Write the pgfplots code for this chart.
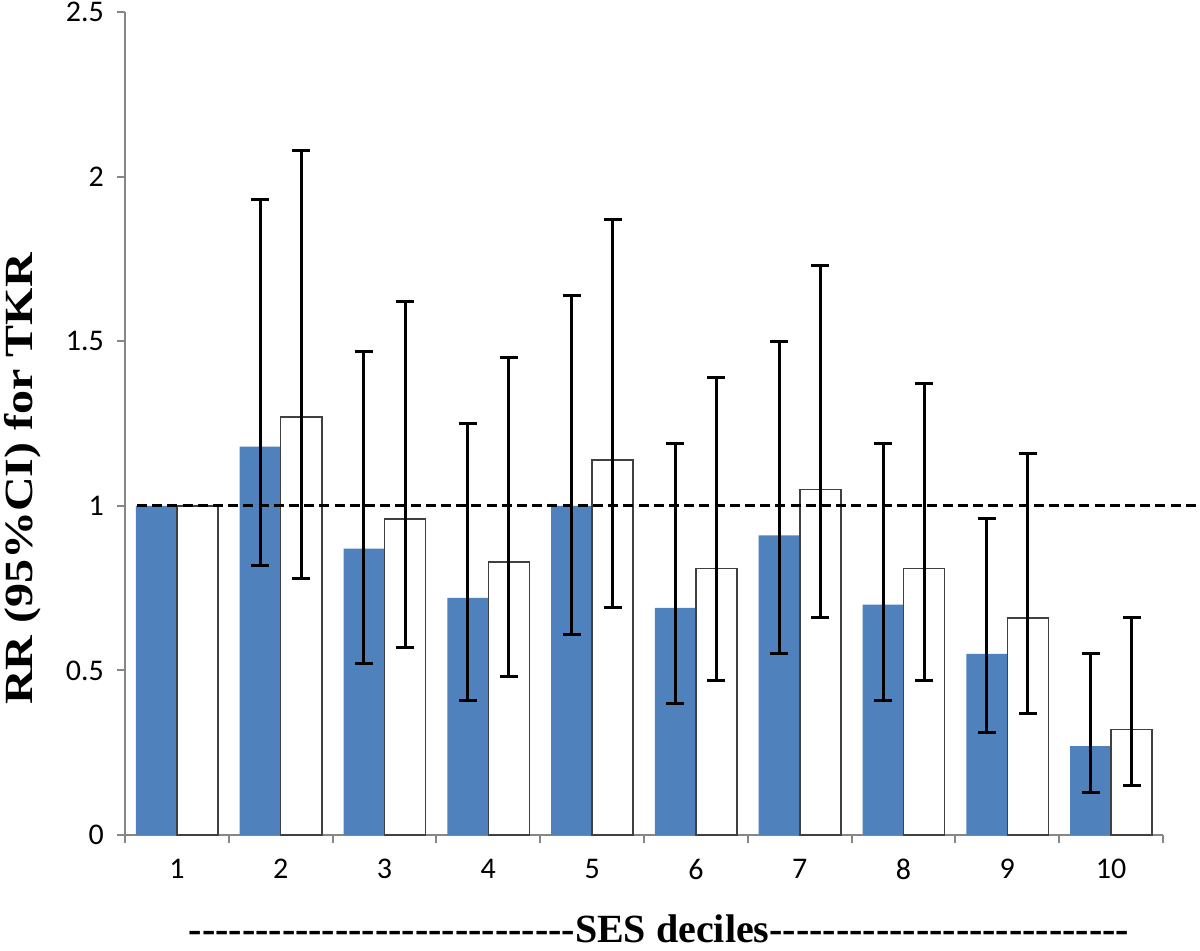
\documentclass[border=0pt]{standalone}
\usepackage{fontspec}
\setmainfont{Carlito}
\newfontfamily\timesfont{Liberation Serif}
\usepackage{graphicx}
\usepackage{pgfplots}
\pgfplotsset{compat=1.18}
\definecolor{barblue}{RGB}{79,129,189}
\definecolor{axgray}{RGB}{134,134,134}
\newcommand{\tickfont}{\fontsize{15}{18}\selectfont}

\begin{document}
\begin{tikzpicture}
\path[use as bounding box] (-62.5pt,-57.5pt) rectangle (537.5pt,417.5pt);
\begin{axis}[
    at={(0,0)}, anchor=south west,
    scale only axis,
    width=519pt, height=411.5pt,
    xmin=0.5, xmax=10.5,
    ymin=0, ymax=2.5,
    axis lines*=left,
    axis line style={axgray, line width=1pt},
    xtick={1,2,3,4,5,6,7,8,9,10},
    minor xtick={0.5,1.5,2.5,3.5,4.5,5.5,6.5,7.5,8.5,9.5,10.5},
    ytick={0,0.5,1,1.5,2,2.5},
    tick align=outside,
    major tick length=4pt,
    minor tick length=4pt,
    tick style={axgray, line width=1pt},
    major x tick style={draw=none},
    /pgf/number format/assume math mode=true,
    tick label style={font=\tickfont},
    yticklabel style={xshift=-3pt},
    xticklabel style={yshift=-4.5pt},
    clip=false,
]

    % bars
    \addplot[ybar, bar width=20.5pt, bar shift=-10.25pt, fill=barblue, draw=none]
        coordinates {(1,1.00) (2,1.18) (3,0.87) (4,0.72) (5,1.00) (6,0.69) (7,0.91) (8,0.70) (9,0.55) (10,0.27)};
    \addplot[ybar, bar width=20.5pt, bar shift=10.25pt, fill=white, draw=black!75, line width=0.8pt]
        coordinates {(1,1.00) (2,1.27) (3,0.96) (4,0.83) (5,1.14) (6,0.81) (7,1.05) (8,0.81) (9,0.66) (10,0.32)};

    % reference line at RR = 1
    \addplot[sharp plot, black, line width=1.4pt, dash pattern=on 5pt off 2.6pt, mark=none]
        coordinates {(0.616,1) (10.83,1)};

    % 95% CI, placed at the centre of each bar (half a bar width = 0.1975 x units)
    \addplot[draw=none, mark=none, forget plot,
        error bars/.cd, y dir=both, y explicit,
        error bar style={draw=black, line width=1.5pt},
        error mark options={rotate=90, mark size=4.5pt, line width=1.5pt, draw=black}]
        coordinates {
            (1.8025,1.18) += (0,0.75) -= (0,0.36)
            (2.8025,0.87) += (0,0.60) -= (0,0.35)
            (3.8025,0.72) += (0,0.53) -= (0,0.31)
            (4.8025,1.00) += (0,0.64) -= (0,0.39)
            (5.8025,0.69) += (0,0.50) -= (0,0.29)
            (6.8025,0.91) += (0,0.59) -= (0,0.36)
            (7.8025,0.70) += (0,0.49) -= (0,0.29)
            (8.8025,0.55) += (0,0.41) -= (0,0.24)
            (9.8025,0.27) += (0,0.28) -= (0,0.14)
        };
    \addplot[draw=none, mark=none, forget plot,
        error bars/.cd, y dir=both, y explicit,
        error bar style={draw=black, line width=1.5pt},
        error mark options={rotate=90, mark size=4.5pt, line width=1.5pt, draw=black}]
        coordinates {
            (2.1975,1.27) += (0,0.81) -= (0,0.49)
            (3.1975,0.96) += (0,0.66) -= (0,0.39)
            (4.1975,0.83) += (0,0.62) -= (0,0.35)
            (5.1975,1.14) += (0,0.73) -= (0,0.45)
            (6.1975,0.81) += (0,0.58) -= (0,0.34)
            (7.1975,1.05) += (0,0.68) -= (0,0.39)
            (8.1975,0.81) += (0,0.56) -= (0,0.34)
            (9.1975,0.66) += (0,0.50) -= (0,0.29)
            (10.1975,0.32) += (0,0.34) -= (0,0.17)
        };

\end{axis}

\node[rotate=90] at (-51pt,178pt)
    {\scalebox{1.2}[1]{\timesfont\bfseries\fontsize{20}{24}\selectfont RR (95\%CI) for TKR}};
\node[anchor=base] at (267pt,-53.5pt)
    {\timesfont\bfseries\fontsize{20}{24}\selectfont -----------------------------SES deciles---------------------------};
\end{tikzpicture}
\end{document}
